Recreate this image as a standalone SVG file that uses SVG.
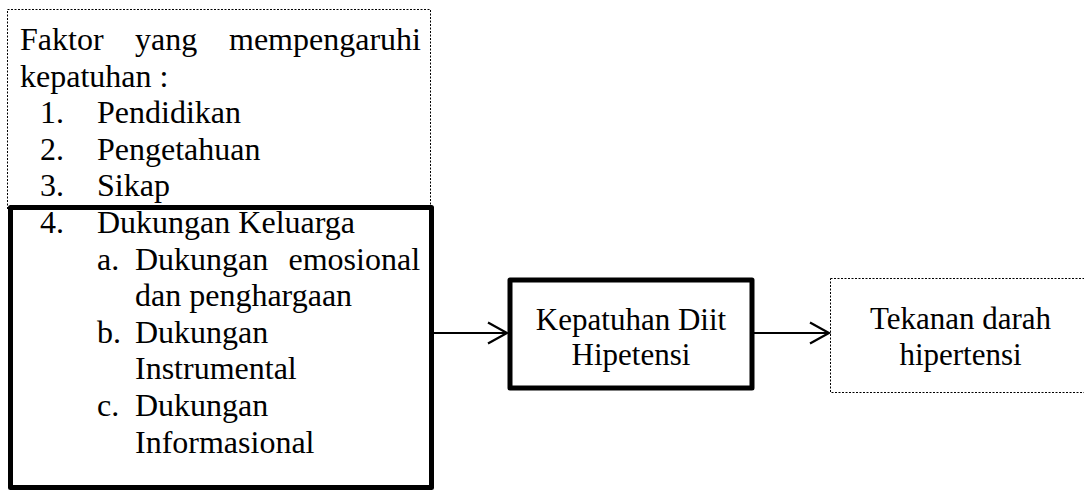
<svg xmlns="http://www.w3.org/2000/svg" width="1084" height="490" viewBox="0 0 1084 490">
<defs>
<style>
.t{font-family:"Liberation Serif","Times New Roman",serif;font-size:32px;fill:#000}
.m{font-family:"Liberation Serif","Times New Roman",serif;font-size:31px;fill:#000;text-anchor:middle}
.dot{fill:none;stroke:#000;stroke-width:1;stroke-dasharray:2 1.5}
.thick{fill:none;stroke:#000;stroke-width:5;stroke-linejoin:round}
.conn{fill:none;stroke:#000;stroke-width:2}
</style>
<marker id="arr" markerUnits="userSpaceOnUse" markerWidth="24" markerHeight="26" refX="20" refY="12" orient="auto">
<path d="M1,1.5 L20,12 L1,22.5" fill="none" stroke="#000" stroke-width="2.2"/>
</marker>
</defs>
<rect width="1084" height="490" fill="#fff"/>
<g id="factors">
<rect class="dot" x="7.5" y="9.5" width="423" height="200"/>
<text class="t" y="50"><tspan x="20">Faktor</tspan><tspan x="135">yang</tspan><tspan x="229">mempengaruhi</tspan></text>
<text class="t" x="20" y="86.6">kepatuhan :</text>
<text class="t" y="123.2"><tspan x="40">1.</tspan><tspan x="97">Pendidikan</tspan></text>
<text class="t" y="159.8"><tspan x="40">2.</tspan><tspan x="97">Pengetahuan</tspan></text>
<text class="t" y="196.4"><tspan x="40">3.</tspan><tspan x="97">Sikap</tspan></text>
</g>
<g id="family-support">
<rect class="thick" x="10.5" y="207.5" width="421" height="280"/>
<text class="t" y="233"><tspan x="40">4.</tspan><tspan x="97">Dukungan Keluarga</tspan></text>
<text class="t" y="269.6"><tspan x="97">a.</tspan><tspan x="135">Dukungan</tspan><tspan x="288.5">emosional</tspan></text>
<text class="t" x="135" y="306.2">dan penghargaan</text>
<text class="t" y="342.8"><tspan x="97">b.</tspan><tspan x="135">Dukungan</tspan></text>
<text class="t" x="135" y="379.4">Instrumental</text>
<text class="t" y="416"><tspan x="97">c.</tspan><tspan x="135">Dukungan</tspan></text>
<text class="t" x="135" y="452.6">Informasional</text>
</g>
<g id="compliance">
<rect class="thick" x="510" y="280" width="242" height="108"/>
<text class="m" x="631" y="330">Kepatuhan Diit</text>
<text class="m" x="631" y="364.5">Hipetensi</text>
</g>
<g id="blood-pressure">
<rect class="dot" x="830.5" y="278.5" width="270" height="114"/>
<text class="m" x="960.5" y="329">Tekanan darah</text>
<text class="m" x="960.5" y="365">hipertensi</text>
</g>
<g id="connectors">
<line class="conn" x1="433" y1="333" x2="507" y2="333" marker-end="url(#arr)"/>
<line class="conn" x1="752" y1="333" x2="829" y2="333" marker-end="url(#arr)"/>
</g>
</svg>
